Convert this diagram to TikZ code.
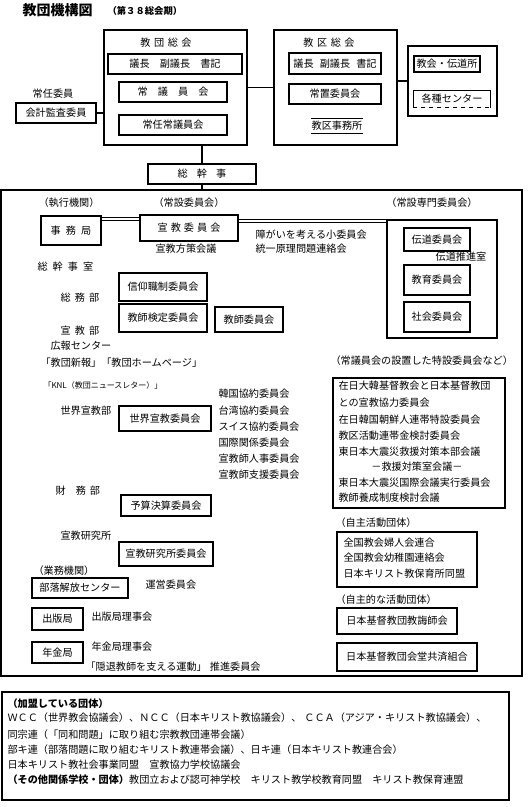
\documentclass[tikz,border=0pt]{standalone}
\usepackage{fontspec}
\setmainfont{Noto Sans CJK JP}
\tikzset{
  every picture/.style={font=\fontsize{7.6pt}{9pt}\selectfont, line width=0.8pt},
  box/.style={draw, inner sep=0pt},
  lbl/.style={inner sep=0pt},
  item/.style={inner sep=0pt, anchor=west},
  dbl/.style={double, double distance=2.2pt, line width=0.6pt},
  title/.style={font=\fontsize{10.5pt}{12pt}\selectfont\bfseries, inner sep=0pt, anchor=west},
  subtitle/.style={font=\fontsize{7pt}{8pt}\selectfont\bfseries, inner sep=0pt, anchor=west},
  small/.style={font=\fontsize{6pt}{7pt}\selectfont},
}
% box from corners (px), named, with text
\newcommand{\bx}[6]{%
  \node[box, minimum width={(#4-#2)*0.75pt}, minimum height={(#5-#3)*0.75pt}] (#1) at ({(#2+#4)/2},{(#3+#5)/2}) {#6};}
\newcommand{\gp}[1]{\hspace{#1em}}

\begin{document}
\begin{tikzpicture}[x=0.75pt, y=-0.75pt]
  \useasboundingbox (0,0) rectangle (532,807);
  % title
  \node[title] (ttl) at (22,10) {教団機構図};
  \node[subtitle] (term) at (107,11) {（第３８総会期）};
  % general assembly
  \bx{sokai}{104}{30}{247}{145}{}
  \node[lbl] (sokaiT) at (166,43) {教\gp{.35}団\gp{.35}総\gp{.35}会};
  \bx{gicho}{108}{54}{242}{74}{議長　副議長　書記}
  \bx{jogiin}{119}{82}{227}{102}{常　議　員　会}
  \bx{jonin}{119}{115}{227}{135}{常任常議員会}
  \node[lbl] (joninin) at (53,94) {常任委員};
  \bx{kaikei}{16}{103}{96}{123}{会計監査委員}
  \draw (kaikei.east) -- (kaikei.east -| sokai.west);
  % district assembly
  \bx{kusokai}{274}{30}{397}{145}{}
  \node[lbl] (kusokaiT) at (329,43) {教\gp{.35}区\gp{.35}総\gp{.35}会};
  \bx{kgicho}{289}{53}{381}{74}{議長\gp{.6}副議長\gp{.6}書記}
  \bx{jochi}{289}{84}{381}{104}{常置委員会}
  \node[inner xsep=0pt, inner ysep=1.8pt] (kjimu) at (337,126) {教区事務所};
  \draw (kjimu.north west) -- (kjimu.north east) (kjimu.south west) -- (kjimu.south east);
  \draw (sokai.east) -- (kusokai.west);
  \bx{kframe}{408}{46}{497}{116}{}
  \bx{kyokai}{414}{56}{480}{72}{教会・伝道所}
  \node[lbl, minimum width={76*0.75pt}, minimum height={16*0.75pt}] (kakushu) at (452,99) {各種センター};
  \draw (kakushu.south west) |- (kakushu.north east) -- (kakushu.south east);
  \draw[dashed] (kakushu.south west) -- (kakushu.south east);
  \draw (kframe.west) -- (kframe.west -| kusokai.east);
  % general secretary
  \bx{sokanji}{148}{164}{256}{184}{総\gp{.9}幹\gp{.9}事}
  \draw (sokanji.north |- sokai.south) -- (sokanji.north);
  \bx{honbu}{1}{190}{522}{676}{}
  \draw (sokanji.south) -- (sokanji.south |- honbu.north);
  % standing committees
  \node[lbl] (shikko) at (69,203) {（執行機関）};
  \node[lbl] (joset) at (189,203) {（常設委員会）};
  \node[lbl] (senmonT) at (432,203) {（常設専門委員会）};
  \bx{jimu}{41}{216}{101}{245}{事\gp{.5}務\gp{.5}局}
  \bx{senkyo}{140}{215}{238}{241}{宣\gp{.3}教\gp{.3}委\gp{.3}員\gp{.3}会}
  \node[lbl] (hosaku) at (186,249) {宣教方策会議};
  \node[item] (shogai) at (255,235) {障がいを考える小委員会};
  \node[item] (toitsu) at (255,249) {統一原理問題連絡会};
  \bx{senmon}{387}{220}{497}{338}{}
  \bx{dendo}{404}{228}{470}{251}{伝道委員会}
  \node[lbl] (suishin) at (461,257) {伝道推進室};
  \bx{kyoiku}{404}{265}{470}{295}{教育委員会}
  \bx{shakai}{404}{302}{470}{332}{社会委員会}
  \coordinate (dblA) at (0,219);
  \coordinate (dblB) at (0,221);
  \draw[dbl] (jimu.east |- dblA) -- (senkyo.west |- dblA);
  \draw[dbl] (senkyo.east |- dblB) -- (senmon.west |- dblB);
  % secretariat
  \node[item] (shitsu) at (37,267) {総\gp{.5}幹\gp{.5}事\gp{.5}室};
  \bx{shinko}{119}{273}{207}{301}{信仰職制委員会}
  \node[lbl] (somubu) at (80,298) {総\gp{.4}務\gp{.4}部};
  \bx{kentei}{119}{304}{207}{332}{教師検定委員会}
  \bx{kyoshi}{215}{307}{283}{332}{教師委員会}
  \node[lbl] (senkyobu) at (80,331) {宣\gp{.4}教\gp{.4}部};
  \node[item] (koho) at (50,346) {広報センター};
  \node[item] (shinpo) at (40,363) {「教団新報」「教団ホームページ」};
  \node[item, small] (knl) at (43,385) {「KNL（教団ニュースレター）」};
  \node[item] (sekaibu) at (60,411) {世界宣教部};
  \bx{sekai}{119}{406}{211}{431}{世界宣教委員会}
  \foreach \t [count=\i] in {韓国協約委員会, 台湾協約委員会, スイス協約委員会, 国際関係委員会, 宣教師人事委員会, 宣教師支援委員会}
    \node[item] (kyoyaku\i) at (218,{377.8+16.2*\i}) {\t};
  \node[item] (zaimu) at (55,491) {財\gp{1}務\gp{.4}部};
  \bx{yosan}{121}{495}{211}{516}{予算決算委員会}
  \node[item] (kenkyujo) at (60,536) {宣教研究所};
  \bx{kenkyu}{119}{542}{213}{566}{宣教研究所委員会}
  % service bodies
  \node[item] (gyomu) at (33,571) {（業務機関）};
  \bx{buraku}{32}{578}{128}{598}{部落解放センター}
  \node[item] (unei) at (145,585) {運営委員会};
  \bx{shuppan}{32}{608}{83}{630}{出版局}
  \node[item] (shuppanR) at (91,617) {出版局理事会};
  \bx{nenkin}{32}{642}{83}{663}{年金局}
  \node[item] (nenkinR) at (91,647) {年金局理事会};
  \node[item] (intai) at (85,667) {「隠退教師を支える運動」\gp{.3}推進委員会};
  % special committees
  \node[item] (tokusetsu) at (330,361) {（常議員会の設置した特設委員会など）};
  \bx{tokubox}{333}{378}{505}{508}{}
  \foreach \t/\y [count=\i] in {在日大韓基督教会と日本基督教団/386, との宣教協力委員会/403, 在日韓国朝鮮人連帯特設委員会/420, 教区活動連帯金検討委員会/436, 東日本大震災救援対策本部会議/452, 東日本大震災国際会議実行委員会/483, 教師養成制度検討会議/498}
    \node[item] (toku\i) at (338,\y) {\t};
  \node[lbl] (kyuen) at (417,467) {－救援対策室会議－};
  \node[item] (jishu) at (335,523) {（自主活動団体）};
  \bx{jishubox}{337}{532}{477}{587}{}
  \foreach \t/\y [count=\i] in {全国教会婦人会連合/543, 全国教会幼稚園連絡会/558, 日本キリスト教保育所同盟/574}
    \node[item] (jishu\i) at (343,\y) {\t};
  \node[item] (jishuteki) at (335,600) {（自主的な活動団体）};
  \bx{kyokaishi}{337}{608}{457}{634}{日本基督教団教誨師会}
  \bx{kyosai}{337}{643}{477}{671}{日本基督教団会堂共済組合}
  % member bodies
  \bx{kamei}{2}{692}{509}{800}{}
  \node[item, font=\fontsize{7.6pt}{9pt}\selectfont\bfseries] (kameiT) at (7,704) {（加盟している団体）};
  \node[item] (kamei1) at (7,718) {ＷＣＣ（世界教会協議会）、ＮＣＣ（日本キリスト教協議会）、\gp{.3}ＣＣＡ（アジア・キリスト教協議会）、};
  \node[item] (kamei2) at (7,735) {同宗連（「同和問題」に取り組む宗教教団連帯会議）};
  \node[item] (kamei3) at (7,750) {部キ連（部落問題に取り組むキリスト教連帯会議）、日キ連（日本キリスト教連合会）};
  \node[item] (kamei4) at (7,765) {日本キリスト教社会事業同盟　宣教協力学校協議会};
  \node[item] (kamei5) at (7,780) {{\bfseries（その他関係学校・団体）}教団立および認可神学校　キリスト教学校教育同盟　キリスト教保育連盟};
\end{tikzpicture}
\end{document}
